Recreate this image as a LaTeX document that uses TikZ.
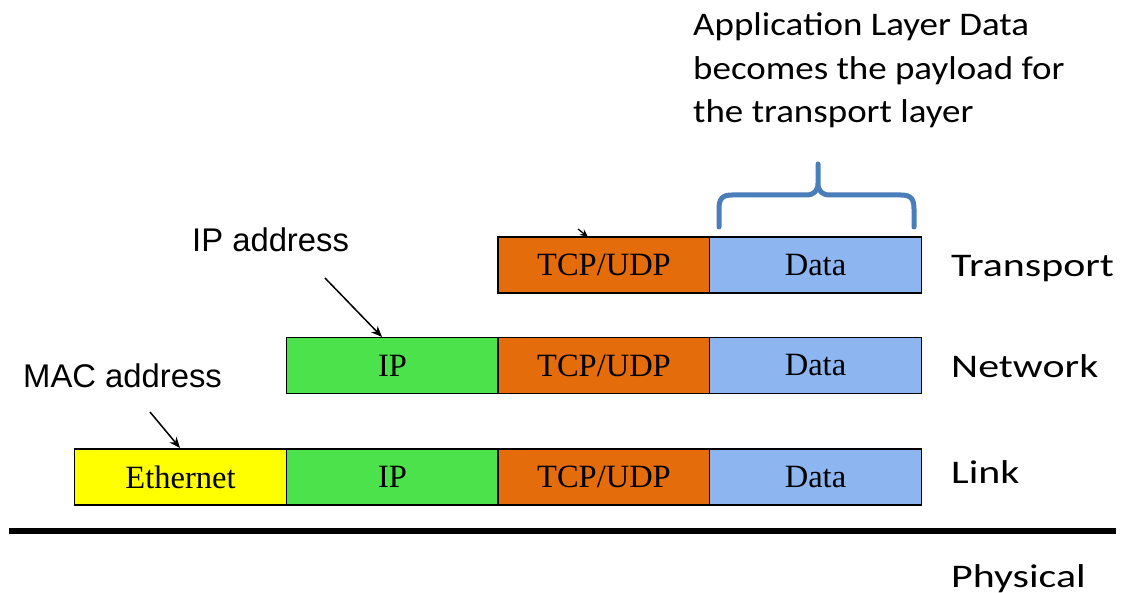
\documentclass[tikz,border=0pt]{standalone}
\usepackage{fontspec}
\setmainfont{Liberation Serif}
\newfontfamily\arialf{Liberation Sans}
\newfontfamily\calA[FakeStretch=1.12]{Carlito}
\newfontfamily\calB[FakeStretch=1.27]{Carlito}
\usetikzlibrary{arrows.meta}
\definecolor{ethyellow}{RGB}{255,255,0}
\definecolor{ipgreen}{RGB}{76,226,76}
\definecolor{tcporange}{RGB}{228,108,10}
\definecolor{datablue}{RGB}{141,182,240}
\definecolor{bracecol}{RGB}{74,126,187}
\begin{document}
\begin{tikzpicture}[x=1pt,y=-1pt,
  pkt/.style={draw=black,line width=1.3pt,minimum width=212pt,minimum height=56pt,inner sep=0pt,
    font=\fontsize{32.5}{36}\selectfont},
  layerlbl/.style={anchor=base west,inner sep=0pt,font=\calB\fontsize{33}{40}\selectfont},
  addrlbl/.style={anchor=base west,inner sep=0pt,font=\arialf\fontsize{32.8}{38}\selectfont},
  ptr/.style={line width=1.5pt,-{Stealth[length=11pt,width=9pt]}}]
\useasboundingbox (0,0) rectangle (1128,593);
% transport row
\node[pkt,fill=tcporange] (t1) at (604,265) {TCP/UDP};
\node[pkt,fill=datablue] (t2) at (815.5,265) {Data};
% network row
\node[pkt,fill=ipgreen] (n0) at (392.5,365.5) {IP};
\node[pkt,fill=tcporange] (n1) at (604,365.5) {TCP/UDP};
\node[pkt,fill=datablue] (n2) at (815.5,365.5) {Data};
% link row
\node[pkt,fill=ethyellow] (l3) at (180.5,477) {Ethernet};
\node[pkt,fill=ipgreen] (l0) at (392.5,477) {IP};
\node[pkt,fill=tcporange] (l1) at (604,477) {TCP/UDP};
\node[pkt,fill=datablue] (l2) at (815.5,477) {Data};
% layer labels
\node[layerlbl] (lt) at (951,277) {Transport};
\node[layerlbl] (ln) at (951,378) {Network};
\node[layerlbl] (ll) at (951,484) {Link};
\node[layerlbl] (lp) at (951,587) {Physical};
% physical line
\coordinate (ph1) at (9,531);
\coordinate (ph2) at (1116,531);
\draw[line width=6pt] (ph1) -- (ph2);
% address labels
\node[addrlbl] (ipa) at (192,252) {IP address};
\node[addrlbl] (maca) at (23,388) {MAC address};
\coordinate (ipas) at (325,278);
\coordinate (ipae) at (382,337);
\coordinate (macs) at (150,412);
\coordinate (mace) at (180,448);
\draw[ptr] (ipas) -- (ipae);
\draw[ptr] (macs) -- (mace);
\coordinate (tas) at (578,229);
\coordinate (tae) at (588,237);
\draw[line width=1.2pt,-{Stealth[length=8pt,width=7pt]}] (tas) -- (tae);
% top explanation
\node[anchor=base west,inner sep=0pt,font=\calA\fontsize{33}{43.5}\selectfont,align=left] (app) at (693,123)
  {Application Layer Data\\becomes the payload for\\the transport layer};
% brace
\draw[bracecol,line width=5pt,line cap=round,line join=round]
  (719,227) -- (719,209) .. controls (719,199) and (722,195) .. (732,195)
  -- (806,195) .. controls (814,195) and (818,191) .. (818,183) -- (818,164)
  (818,183) .. controls (818,191) and (822,195) .. (830,195)
  -- (901,195) .. controls (911,195) and (914,199) .. (914,209) -- (914,227);
\end{tikzpicture}
\end{document}
